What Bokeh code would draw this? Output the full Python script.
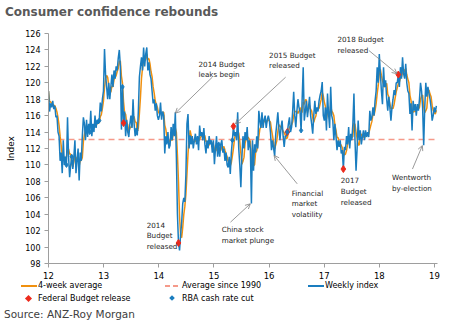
import numpy as np
import pandas as pd
from bokeh.plotting import figure
from bokeh.layouts import column
from bokeh.models import (Range1d, FixedTicker, Label, Arrow, OpenHead, Div)
from bokeh.embed import file_html
from bokeh.resources import INLINE

# ---------------- data (weekly ANZ-Roy Morgan consumer confidence) ----------------
first_week = "2012-01-01"
weekly_2012 = [119.0, 116.5, 117.5, 117.0, 117.8, 116.8, 117.2, 115.8, 116.0, 114.0,
               113.5, 110.5, 111.5, 109.0, 113.0, 110.0, 111.0, 110.0, 115.8, 111.0,
               108.5, 110.0, 111.0, 109.5, 111.0, 113.0, 109.0, 110.5, 112.0, 108.1,
               111.5, 110.5, 113.5, 115.8, 115.0, 113.0, 115.5, 113.4, 115.0, 114.0,
               116.6, 113.5, 115.0, 114.0, 116.0, 114.5, 115.5, 115.0, 115.4, 117.6,
               116.5, 118.0]
weekly_2013 = [119.0, 124.1, 121.0, 119.5, 118.0, 120.0, 118.0, 119.5, 121.0, 119.5,
               121.5, 120.5, 122.0, 121.5, 123.0, 124.0, 122.0, 114.3, 119.5, 115.1,
               116.5, 113.5, 115.5, 114.0, 113.4, 115.0, 116.0, 114.5, 118.0, 115.0,
               113.5, 114.2, 113.6, 116.5, 120.7, 122.0, 123.1, 121.5, 124.3, 122.0,
               123.5, 124.3, 121.5, 122.5, 121.0, 120.5, 119.0, 117.5, 118.0, 116.6,
               117.5, 116.0]
weekly_2014 = [115.5, 116.0, 117.6, 115.5, 116.5, 116.0, 111.4, 113.5, 112.5, 114.0,
               112.0, 112.4, 114.6, 113.0, 115.0, 113.5, 116.4, 110.9, 104.0, 100.5,
               99.6, 101.5, 103.0, 105.3, 106.0, 105.5, 108.8, 115.0, 116.2, 112.0,
               113.6, 112.5, 113.5, 112.0, 113.0, 113.8, 112.5, 113.5, 111.8, 114.8,
               113.5, 114.0, 113.0, 114.5, 112.5, 111.4, 113.0, 112.0, 113.5, 112.5,
               113.0, 111.5]
weekly_2015 = [113.0, 110.1, 112.0, 113.5, 111.0, 112.5, 111.0, 112.5, 113.0, 111.5,
               112.0, 110.5, 111.5, 110.0, 109.7, 111.0, 108.9, 111.5, 113.0, 114.7,
               113.5, 114.0, 113.0, 116.4, 112.0, 110.0, 107.3, 111.0, 113.5, 112.0,
               114.0, 113.0, 114.6, 111.8, 113.0, 112.0, 105.3, 113.0, 109.3, 112.5,
               111.5, 113.5, 112.0, 116.6, 115.4, 114.5, 116.4, 114.5, 115.5, 116.0,
               114.5, 115.5]
weekly_2016 = [116.0, 115.4, 114.0, 111.8, 113.0, 112.0, 111.1, 113.7, 115.0, 116.4,
               114.5, 113.0, 114.5, 115.4, 113.5, 112.2, 113.5, 113.5, 114.0, 115.0,
               115.8, 114.0, 114.6, 116.5, 118.9, 116.0, 114.6, 116.5, 118.0, 117.0,
               116.5, 114.2, 118.0, 121.9, 115.4, 116.5, 117.8, 115.8, 117.0, 118.3,
               116.0, 115.0, 113.8, 116.0, 117.8, 116.2, 117.0, 116.5, 117.8, 118.5,
               119.0, 120.1]
weekly_2017 = [116.0, 115.4, 117.0, 114.2, 118.7, 116.2, 114.5, 119.5, 116.0, 115.4,
               113.0, 115.0, 113.5, 111.8, 113.0, 112.2, 113.0, 111.4, 111.8, 109.5,
               112.2, 111.8, 113.5, 112.5, 114.6, 112.0, 113.8, 113.0, 115.0, 118.7,
               113.0, 109.3, 112.0, 115.4, 113.0, 114.2, 112.5, 113.4, 114.2, 113.0,
               114.2, 113.4, 114.0, 113.4, 116.6, 115.4, 115.8, 117.0, 116.0, 117.8,
               119.0, 121.9]
weekly_2018 = [120.0, 123.5, 121.1, 119.0, 117.4, 121.9, 119.5, 120.3, 118.0, 116.6,
               118.3, 117.0, 115.4, 117.0, 118.0, 119.1, 118.5, 120.0, 120.0, 121.0,
               119.5, 121.9, 120.5, 123.1, 121.1, 120.5, 122.3, 120.0, 119.0, 118.7,
               116.2, 117.5, 114.2, 117.8, 116.6, 117.4, 116.0, 117.4, 116.6, 118.0,
               120.0, 119.0, 117.0, 112.4, 117.0, 120.0, 118.3, 119.5, 118.7, 118.0,
               117.0, 115.4]
weekly_tail = [116.0, 117.0, 116.4, 117.2]

average_since_1990 = 113.1
budget_dates = ["2013-05-14", "2014-05-13", "2015-05-12", "2016-05-03",
                "2017-05-09", "2018-05-08"]
rba_cut_dates = ["2012-05-01", "2012-06-05", "2012-10-02", "2012-12-04",
                 "2013-05-07", "2013-08-06", "2015-02-03", "2015-05-05",
                 "2016-05-03", "2016-08-02"]
x_ticks = [12, 13, 14, 15, 16, 17, 18, 19]
y_ticks = list(range(98, 127, 2))

title_text = "Consumer confidence rebounds"
source_text = "Source: ANZ-Roy Morgan"
legend_labels = ["4-week average", "Average since 1990", "Weekly index",
                 "Federal Budget release", "RBA cash rate cut"]

# ---------------- derived ----------------
weekly = np.array(weekly_2012 + weekly_2013 + weekly_2014 + weekly_2015 +
                  weekly_2016 + weekly_2017 + weekly_2018 + weekly_tail)
dates = pd.date_range(first_week, periods=len(weekly), freq="7D")
origin = pd.Timestamp("2012-01-01")
xs = 12 + np.asarray((dates - origin).days, dtype=float) / 365.25
avg4 = pd.Series(weekly).rolling(4, min_periods=1).mean().to_numpy()


def event_points(dlist):
    ex, ey = [], []
    for d in dlist:
        i = int(np.argmin(np.abs((dates - pd.Timestamp(d)).days)))
        ex.append(xs[i])
        ey.append(weekly[i])
    return ex, ey


bx, by = event_points(budget_dates)
rx, ry = event_points(rba_cut_dates)

# ---------------- styles ----------------
FONT = "DejaVu Sans"
BLUE = "#1a7dbf"
ORANGE = "#f0900f"
RED = "#ec2a1c"
DASH = "#f59a8a"
AXIS = "#9e9e9e"
GRAY = "#808080"
TXT = "#262626"
W = 453
TOP_H = 24
MAIN_H = 281 - TOP_H
BOT_H = 333 - TOP_H - MAIN_H


def txt(left, center, size, color, s, lh=12, extra=""):
    return (f'<div style="position:absolute;left:{left}px;top:{center - lh / 2}px;'
            f'height:{lh}px;line-height:{lh}px;font-family:\'{FONT}\';font-size:{size}px;'
            f'color:{color};white-space:nowrap;{extra}">{s}</div>')


def box(left, top, w, h, color, extra=""):
    return (f'<div style="position:absolute;left:{left}px;top:{top}px;width:{w}px;'
            f'height:{h}px;background-color:{color};{extra}"></div>')


def strip(h, parts):
    return Div(text=(f'<div style="position:relative;width:{W}px;height:{h}px;'
                     f'background:white">' + "".join(parts) + "</div>"),
               width=W, height=h, margin=0)


# ---------------- title strip ----------------
top = strip(TOP_H, [txt(5, 11.7, 12, "#595959", title_text, lh=14,
                        extra="font-weight:bold")])

# ---------------- main chart ----------------
p = figure(width=W, height=MAIN_H, x_range=Range1d(12, 19.054), y_range=Range1d(98, 126),
           output_backend="svg", toolbar_location=None,
           min_border_left=48, min_border_right=16, min_border_top=33 - TOP_H,
           min_border_bottom=18)
p.outline_line_color = None
p.grid.visible = False
p.background_fill_color = "white"
p.border_fill_color = "white"

for ax in (p.xaxis[0], p.yaxis[0]):
    ax.axis_line_color = AXIS
    ax.major_tick_line_color = AXIS
    ax.minor_tick_line_color = None
    ax.major_tick_in = 0
    ax.major_tick_out = 4
    ax.major_label_text_font = FONT
    ax.major_label_text_color = "#000000"
p.xaxis.major_label_standoff = 4
p.yaxis.major_label_standoff = 4
p.xaxis.ticker = FixedTicker(ticks=x_ticks)
p.yaxis.ticker = FixedTicker(ticks=y_ticks)
p.xaxis.major_label_text_font_size = "8.5px"
p.yaxis.major_label_text_font_size = "8px"
p.yaxis.axis_label = "Index"
p.yaxis.axis_label_text_font = FONT
p.yaxis.axis_label_text_font_size = "9px"
p.yaxis.axis_label_text_font_style = "normal"
p.yaxis.axis_label_text_color = "#000000"
p.yaxis.axis_label_standoff = 6

p.line([xs[0], xs[-1]], [average_since_1990, average_since_1990],
       line_color=DASH, line_width=1.5, line_dash="6 4")
p.line(xs, avg4, line_color=ORANGE, line_width=1.5)
p.line(xs, weekly, line_color=BLUE, line_width=1.5)
p.scatter(bx, by, marker="diamond", size=7, fill_color=RED, line_color=RED)
p.scatter(rx, ry, marker="diamond", size=5, fill_color=BLUE, line_color=BLUE)

notes = [
    ("2014 Budget\nleaks begin", 14.72, 122.83),
    ("2015 Budget\nreleased", 16.0, 123.93),
    ("2018 Budget\nreleased", 17.24, 125.8),
    ("Financial\nmarket\nvolatility", 16.41, 107.13),
    ("2017\nBudget\nreleased", 17.30, 108.6),
    ("Wentworth\nby-election", 18.23, 108.96),
    ("China stock\nmarket plunge", 15.14, 102.69),
    ("2014\nBudget\nreleased", 13.78, 103.23),
]
for t, nx, ny in notes:
    p.add_layout(Label(x=nx, y=ny, text=t, text_font=FONT, text_font_size="7.2px",
                       text_color=TXT, text_baseline="top", text_align="left",
                       text_line_height=1.2))

arrows = [
    (14.97, 120.68, 14.30, 116.3),
    (16.30, 120.68, 15.39, 115.0),
    (17.81, 123.93, 18.32, 121.1),
    (16.51, 107.7, 16.09, 111.15),
    (18.60, 109.5, 18.78, 112.36),
    (15.30, 103.03, 15.66, 105.27),
]
for x0, y0, x1, y1 in arrows:
    p.add_layout(Arrow(x_start=x0, y_start=y0, x_end=x1, y_end=y1,
                       line_color=GRAY, line_width=0.8,
                       end=OpenHead(size=5, line_color=GRAY, line_width=0.8)))

# ---------------- legend + source strip ----------------
r1, r2 = 4.7, 17.0
bottom = strip(BOT_H, [
    box(21, 4, 16, 2, ORANGE),
    txt(38, r1, 8, "#000", legend_labels[0], lh=9),
    box(165, 4, 5, 2, DASH),
    box(173, 4, 5, 2, DASH),
    txt(182, r1, 8, "#000", legend_labels[1], lh=9),
    box(308, 4, 16, 2, BLUE),
    txt(325, r1, 8, "#000", legend_labels[2], lh=9),
    box(25.5, r2 - 2.5, 5, 5, RED, "transform:rotate(45deg)"),
    txt(38, r2, 8, "#000", legend_labels[3], lh=9),
    box(170, r2 - 2, 4, 4, BLUE, "transform:rotate(45deg)"),
    txt(182, r2, 8, "#000", legend_labels[4], lh=9),
    txt(4, 33.0, 10.5, "#404040", source_text, lh=14),
])

layout = column(top, p, bottom, spacing=0)
open("out.html", "w").write(file_html(layout, INLINE))
